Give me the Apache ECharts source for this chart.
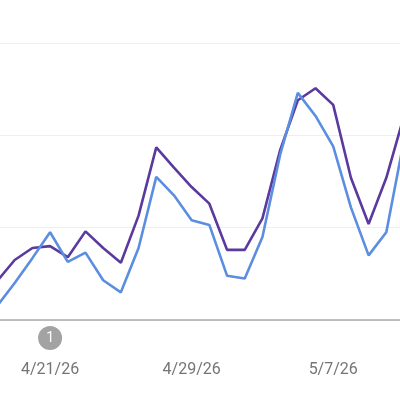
<!DOCTYPE html>
<html><head><meta charset="utf-8">
<script src="https://cdn.jsdelivr.net/npm/echarts@6/dist/echarts.min.js"></script>
<style>html,body{margin:0;padding:0;background:#fff;overflow:hidden;width:400px;height:400px}#c{width:407px;height:400px;margin-left:-3px}</style>
</head><body><div id="c"></div>
<script>
const categories=['4/18/26','4/19/26','4/20/26','4/21/26','4/22/26','4/23/26','4/24/26','4/25/26','4/26/26','4/27/26','4/28/26','4/29/26','4/30/26','5/1/26','5/2/26','5/3/26','5/4/26','5/5/26','5/6/26','5/7/26','5/8/26','5/9/26','5/10/26','5/11/26'];
const purpleValues=[42,65,78,80,68,96,78,62,113,187,165,144,126,76,76,110,184,238,251,233,154,104,154,221];
const blueValues=[15,40,67,95,63,73,43,30,78,155,135,108,103,48,45,90,179,246,221,188,122,70,95,195];
const tickLabels=['4/21/26','4/29/26','5/7/26'];
const annotationDate='4/21/26';
const annotationText='1';
const chart=echarts.init(document.getElementById('c'),null,{renderer:'canvas'});
chart.setOption({
  animation:false,
  backgroundColor:'#fff',
  grid:[
    {left:0,right:0,top:43,height:277},
    {left:0,right:0,top:326,height:24}
  ],
  xAxis:[
    {type:'category',gridIndex:0,data:categories,boundaryGap:false,
     axisLine:{lineStyle:{color:'#ababab',width:1.5}},axisTick:{show:false},
     axisLabel:{margin:42,color:'#757575',fontFamily:'Roboto',fontSize:16,
       interval:(i,v)=>tickLabels.includes(v),formatter:v=>v}},
    {type:'category',gridIndex:1,data:categories,boundaryGap:false,show:false}
  ],
  yAxis:[
    {type:'value',gridIndex:0,min:0,max:300,interval:100,axisLine:{show:false},axisTick:{show:false},
     axisLabel:{show:false},splitLine:{lineStyle:{color:'#eeeeee',width:1}}},
    {type:'value',gridIndex:1,min:0,max:2,show:false}
  ],
  series:[
    {name:'Purple',type:'line',data:purpleValues,symbol:'none',z:2,lineStyle:{color:'#5a3a9e',width:2.6}},
    {name:'Blue',type:'line',data:blueValues,symbol:'none',z:3,lineStyle:{color:'#5b8ee0',width:2.6}},
    {name:'Annotation',type:'scatter',xAxisIndex:1,yAxisIndex:1,data:[[annotationDate,1]],symbol:'circle',symbolSize:24,silent:true,
     itemStyle:{color:'#a3a3a3',opacity:1},
     label:{show:true,position:'inside',formatter:annotationText,color:'#fff',fontFamily:'Roboto',fontSize:14}}
  ]
});
</script></body></html>
